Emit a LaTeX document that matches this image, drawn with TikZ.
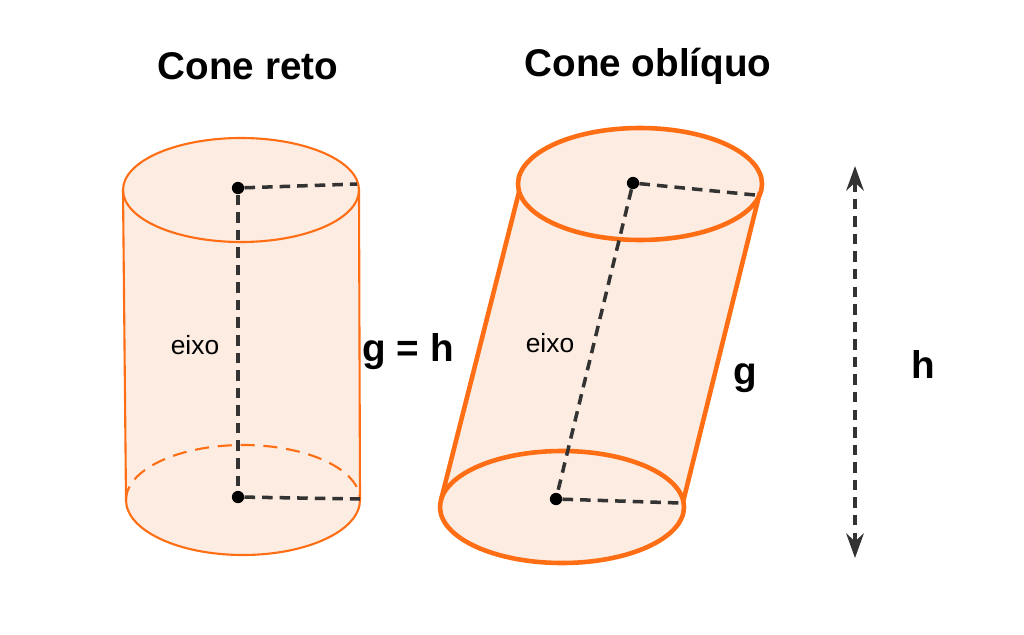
\documentclass[tikz,border=0pt]{standalone}
\usepackage{fontspec}
\setmainfont{Liberation Sans}
\usetikzlibrary{arrows.meta}
\definecolor{laranja}{RGB}{255,110,20}
\definecolor{pessego}{RGB}{253,236,225}
\begin{document}
\begin{tikzpicture}[x=0.02cm,y=-0.02cm,
  borda/.style={draw=laranja,line width=1.2pt},
  borda grossa/.style={draw=laranja,line width=2.6pt},
  tracejado/.style={line width=2pt,black!80,dash pattern=on 6pt off 4pt},
  ponto/.style={circle,fill=black,inner sep=0pt,minimum size=7pt},
  titulo/.style={font=\bfseries\fontsize{22}{26}\selectfont},
  rotulo/.style={font=\fontsize{15}{18}\selectfont}]
  \useasboundingbox (0,0) rectangle (1024,635);

  % Cone reto
  \fill [pessego] (123,190) -- (126,500) arc (180:0:117 and 55) -- (359,190) -- cycle;
  \fill [pessego] (241,190) ellipse (118 and 52);
  \draw [borda] (241,190) ellipse (118 and 52);
  \draw [borda] (126,500) arc (180:0:117 and 55);
  \draw [borda,dash pattern=on 8pt off 5pt] (126,500) arc (180:360:117 and 55);
  \draw [borda] (123,190) -- (126,500);
  \draw [borda] (359,190) -- (360,500);
  \node [ponto] (c1) at (238,188) {};
  \node [ponto] (b1) at (238,497) {};
  \coordinate (r1) at (357,184);
  \coordinate (s1) at (360,499);
  \draw [tracejado] (c1) -- (b1);
  \draw [tracejado] (c1) -- (r1);
  \draw [tracejado] (b1) -- (s1);

  % Cone obliquo
  \fill [pessego] (518,190) -- (440,507) -- (684,507) -- (762,184) -- cycle;
  \fill [pessego] (640,184) ellipse (122 and 56);
  \fill [pessego] (562,507) ellipse (122 and 56);
  \draw [borda grossa] (640,184) ellipse (122 and 56);
  \draw [borda grossa] (562,507) ellipse (122 and 56);
  \draw [borda grossa] (519,192) -- (441,500);
  \draw [borda grossa] (760,192) -- (683,502);
  \node [ponto] (c2) at (633,183) {};
  \node [ponto] (b2) at (556,499) {};
  \coordinate (r2) at (755,195);
  \coordinate (s2) at (680,503);
  \draw [tracejado] (c2) -- (b2);
  \draw [tracejado] (c2) -- (r2);
  \draw [tracejado] (b2) -- (s2);

  % Altura
  \coordinate (h1) at (855,166);
  \coordinate (h2) at (855,558);
  \draw [tracejado,{Stealth[length=14pt,width=10pt]}-{Stealth[length=14pt,width=10pt]}] (h1) -- (h2);

  % Textos
  \node [titulo] (t1) at (248,66) {Cone reto};
  \node [titulo] (t2) at (648,66) {Cone oblíquo};
  \node [rotulo] (e1) at (195,345) {eixo};
  \node [rotulo] (e2) at (550,343) {eixo};
  \node [titulo] (gh) at (408,352) {g = h};
  \node [titulo] (g) at (745,378) {g};
  \node [titulo] (h) at (923,364) {h};
\end{tikzpicture}
\end{document}
